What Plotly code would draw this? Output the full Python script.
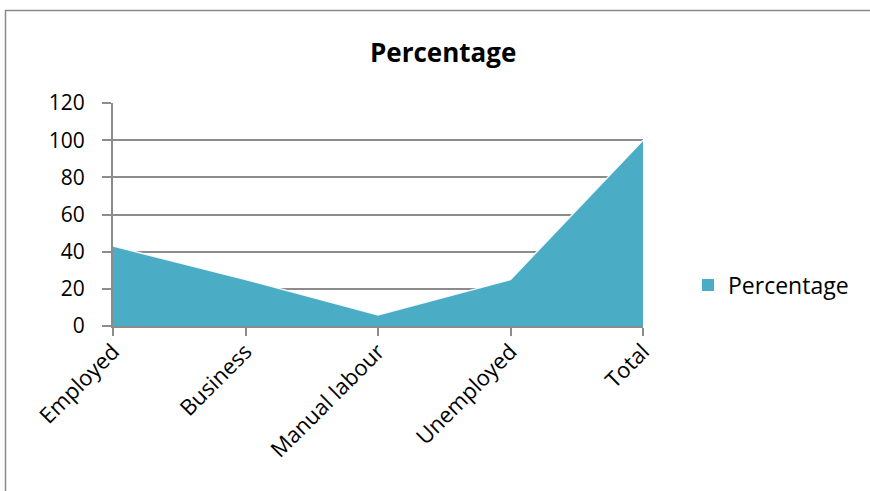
import plotly.graph_objects as go

categories = ["Employed", "Business", "Manual labour", "Unemployed", "Total"]
values = [43, 25, 6, 25, 100]
y_ticks = [0, 20, 40, 60, 80, 100, 120]
series_name = "Percentage"
title_text = "Percentage"

W, H = 870, 491
L, R, T, B = 113, 643, 103, 326  # plot area in pixels

def px_x(px):
    return (px - L) / (R - L)

def px_y(py):
    return (B - py) / (B - T)

FONT = "Open Sans, Noto Sans, Liberation Sans, sans-serif"
GRID = "#8c8c8c"

fig = go.Figure()
fig.add_trace(go.Scatter(
    x=categories, y=values, name=series_name, mode="lines",
    fill="tozeroy", fillcolor="#4BACC6",
    line=dict(color="rgba(255,255,255,0.9)", width=1.5),
    showlegend=False, hoverinfo="x+y",
))
# legend proxy
fig.add_trace(go.Scatter(
    x=[None], y=[None], name=series_name, mode="markers",
    marker=dict(symbol="square", size=10, color="#4BACC6"),
    showlegend=True,
))

fig.update_layout(
    width=W, height=H,
    margin=dict(l=L, r=W - R, t=T, b=H - B, pad=0),
    paper_bgcolor="white", plot_bgcolor="white",
    font=dict(family=FONT, size=21, color="#000000"),
    showlegend=True,
    legend=dict(x=px_x(688), y=px_y(285), xanchor="left", yanchor="middle",
                font=dict(size=23, family=FONT), itemsizing="constant",
                bgcolor="rgba(0,0,0,0)", itemwidth=30, tracegroupgap=0),
    xaxis=dict(
        type="category", range=[0, len(categories) - 1],
        showgrid=False, showline=True, linecolor=GRID, linewidth=2,
        ticks="outside", ticklen=8, tickcolor=GRID, tickwidth=1.5,
        tickangle=-45, tickfont=dict(size=22, family=FONT),
        ticklabelstandoff=-6,
        fixedrange=True,
    ),
    yaxis=dict(
        range=[0, 120], tickvals=y_ticks,
        showgrid=True, gridcolor=GRID, gridwidth=2,
        zeroline=False, showline=True, linecolor=GRID, linewidth=2,
        ticks="outside", ticklen=9, tickcolor=GRID, tickwidth=2,
        tickfont=dict(size=21, family=FONT), ticklabelstandoff=13,
        fixedrange=True,
    ),
    annotations=[dict(
        text="<b>" + title_text + "</b>", x=px_x(443), y=px_y(52),
        xref="paper", yref="paper", xanchor="center", yanchor="middle",
        showarrow=False, font=dict(size=26, family=FONT, color="#000000"),
    )],
    shapes=[dict(
        type="rect", xref="paper", yref="paper",
        x0=px_x(5.5), x1=px_x(900), y0=px_y(520), y1=px_y(10.5),
        line=dict(color="#8a8a8a", width=1.5), fillcolor="rgba(0,0,0,0)",
        layer="below",
    )],
)

fig.write_html("out.html")
